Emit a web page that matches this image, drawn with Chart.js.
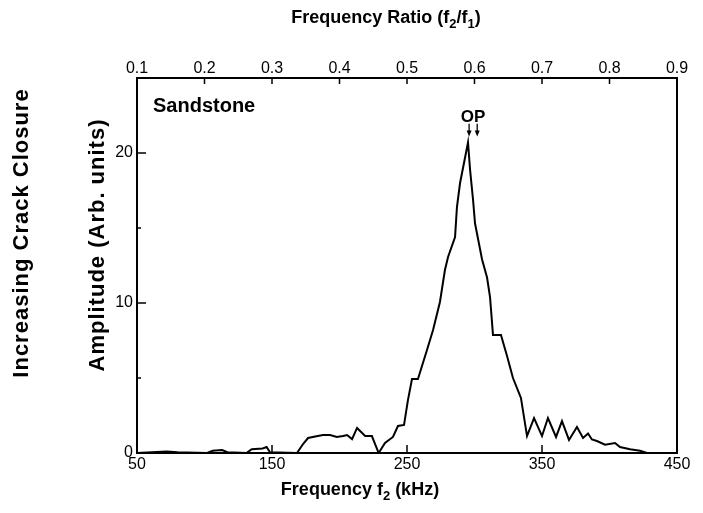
<!DOCTYPE html>
<html>
<head>
<meta charset="utf-8">
<script src="https://cdn.jsdelivr.net/npm/chart.js@4.4.1/dist/chart.umd.min.js"></script>
<style>
  html, body { margin: 0; padding: 0; background: #fff; }
  canvas { display: block; }
</style>
</head>
<body>
<canvas id="chart" width="703" height="513"></canvas>
<script>
// frequency f2 (kHz) and amplitude (arb. units)
const freq = [50, 72, 80, 102, 106, 113, 117, 131, 135, 143, 146, 148.5, 168.5, 173, 176.7, 182, 187.8, 193,
  198, 202.6, 205.6, 209.3, 213, 219, 224, 229, 233.7, 239.6, 243.3, 247.8, 250.7, 253.7, 258.1, 264.8,
  269.3, 274.4, 278.1, 280.4, 285.6, 287, 289.3, 295.2, 296.7, 298.9, 300.4, 305.6, 309.3, 311.5, 313.7,
  319.6, 324.1, 328.5, 334.4, 338.9, 344.1, 350, 354.4, 360.4, 364.8, 370, 375.9, 380.4, 384.1, 387,
  390.7, 396.7, 404.1, 407.8, 415.2, 422.6, 427.8];
const amp = [0, 0.1, 0.05, 0, 0.15, 0.2, 0.05, 0, 0.25, 0.3, 0.4, 0.05, 0, 0.6, 1.0, 1.1, 1.2, 1.2,
  1.07, 1.13, 1.2, 0.93, 1.67, 1.13, 1.13, 0, 0.67, 1.07, 1.8, 1.87, 3.53, 4.93, 4.93, 6.87,
  8.2, 10.07, 12.2, 13.07, 14.4, 16.4, 18.0, 20.7, 18.9, 16.9, 15.3, 12.9, 11.7, 10.4, 7.87,
  7.87, 6.47, 5.0, 3.67, 1.13, 2.33, 1.13, 2.33, 1.07, 2.13, 0.87, 1.73, 1.0, 1.3, 0.9,
  0.8, 0.55, 0.67, 0.4, 0.25, 0.15, 0];

const freqTicks = [50, 150, 250, 350, 450];
const ratioTicks = [0.1, 0.2, 0.3, 0.4, 0.5, 0.6, 0.7, 0.8, 0.9];
const ampTicks = [0, 5, 10, 15, 20];

// the two OP arrows (kHz)
const opFreq = [296, 302];

const FONT = "'Liberation Sans', Arial, Helvetica, sans-serif";
Chart.defaults.font.family = FONT;
Chart.defaults.color = '#000';

// text with subscripts: parts = [[text, isSub], ...]
function richText(ctx, parts, x, y, size) {
  const big = 'bold ' + size + 'px ' + FONT;
  const small = 'bold ' + Math.round(size * 0.7) + 'px ' + FONT;
  let w = 0;
  parts.forEach(p => { ctx.font = p[1] ? small : big; w += ctx.measureText(p[0]).width; });
  let cx = x - w / 2;
  ctx.textAlign = 'left';
  ctx.textBaseline = 'alphabetic';
  parts.forEach(p => {
    ctx.font = p[1] ? small : big;
    ctx.fillText(p[0], cx, p[1] ? y + size * 0.28 : y);
    cx += ctx.measureText(p[0]).width;
  });
}

function vText(ctx, text, x, y, size) {
  ctx.save();
  ctx.translate(x, y);
  ctx.rotate(-Math.PI / 2);
  ctx.font = 'bold ' + size + 'px ' + FONT;
  ctx.letterSpacing = '1px';
  ctx.textAlign = 'center';
  ctx.textBaseline = 'middle';
  ctx.fillText(text, 0, 0);
  ctx.restore();
}

const frame = {
  id: 'frame',
  afterDraw(chart) {
    const { ctx, chartArea: a, scales } = chart;
    const x = scales.x, x2 = scales.x2, y = scales.y;
    ctx.save();
    ctx.strokeStyle = '#000';
    ctx.fillStyle = '#000';
    ctx.lineWidth = 2;
    ctx.strokeRect(a.left, a.top, a.right - a.left, a.bottom - a.top);

    // inward tick marks
    ctx.lineWidth = 1.5;
    ctx.beginPath();
    x.ticks.forEach(t => {
      if (t.value <= x.min || t.value >= x.max) return;
      const p = x.getPixelForValue(t.value);
      ctx.moveTo(p, a.bottom); ctx.lineTo(p, a.bottom - 8);
    });
    x2.ticks.forEach(t => {
      if (t.value <= x2.min + 1e-9 || t.value >= x2.max - 1e-9) return;
      const p = x2.getPixelForValue(t.value);
      ctx.moveTo(p, a.top); ctx.lineTo(p, a.top + 6);
    });
    y.ticks.forEach(t => {
      if (t.value <= y.min) return;
      const p = y.getPixelForValue(t.value);
      ctx.moveTo(a.left, p); ctx.lineTo(a.left + (t.value % 10 === 0 ? 9 : 4), p);
    });
    ctx.stroke();

    // OP arrows
    ctx.lineWidth = 1.3;
    opFreq.forEach(f => {
      const px = x.getPixelForValue(f);
      const top = y.getPixelForValue(21.95), bot = y.getPixelForValue(21.1);
      ctx.beginPath();
      ctx.moveTo(px, top); ctx.lineTo(px, bot - 4);
      ctx.stroke();
      ctx.beginPath();
      ctx.moveTo(px - 2.5, bot - 6); ctx.lineTo(px + 2.5, bot - 6); ctx.lineTo(px, bot);
      ctx.closePath();
      ctx.fill();
    });
    ctx.font = 'bold 17px ' + FONT;
    ctx.textAlign = 'center';
    ctx.textBaseline = 'alphabetic';
    ctx.fillText('OP', x.getPixelForValue((opFreq[0] + opFreq[1]) / 2), y.getPixelForValue(22.07));

    ctx.font = 'bold 20px ' + FONT;
    ctx.textAlign = 'left';
    ctx.fillText('Sandstone', a.left + 16, a.top + 34);

    // axis titles
    richText(ctx, [['Frequency Ratio (f', 0], ['2', 1], ['/f', 0], ['1', 1], [')', 0]], 386, 23, 18);
    richText(ctx, [['Frequency f', 0], ['2', 1], [' (kHz)', 0]], 360, 495, 18);
    vText(ctx, 'Amplitude (Arb. units)', 98, 245, 22);
    vText(ctx, 'Increasing Crack Closure', 22, 233, 22);
    ctx.restore();
  }
};

const setTicks = vals => scale => { scale.ticks = vals.map(v => ({ value: v })); };

new Chart(document.getElementById('chart'), {
  type: 'line',
  data: {
    datasets: [{
      data: freq.map((f, i) => ({ x: f, y: amp[i] })),
      borderColor: '#000',
      borderWidth: 2,
      pointRadius: 0,
      tension: 0,
      fill: false
    }]
  },
  options: {
    responsive: false,
    animation: false,
    layout: { padding: { left: 0, right: 26, top: 0, bottom: 0 } },
    plugins: { legend: { display: false }, tooltip: { enabled: false } },
    scales: {
      x: {
        type: 'linear', position: 'bottom', min: 50, max: 450,
        afterBuildTicks: setTicks(freqTicks),
        afterFit: s => { s.height = 60; },
        grid: { display: false, drawTicks: false },
        border: { display: false },
        ticks: { font: { size: 16 }, padding: 2, maxRotation: 0, autoSkip: false }
      },
      x2: {
        type: 'linear', position: 'top', min: 0.1, max: 0.9,
        afterBuildTicks: setTicks(ratioTicks),
        afterFit: s => { s.height = 78; },
        grid: { display: false, drawTicks: false },
        border: { display: false },
        ticks: { font: { size: 16 }, padding: 0, maxRotation: 0, autoSkip: false, callback: v => v.toFixed(1) }
      },
      y: {
        type: 'linear', position: 'left', min: 0, max: 25,
        afterBuildTicks: setTicks(ampTicks),
        afterFit: s => { s.width = 137; },
        grid: { display: false, drawTicks: false },
        border: { display: false },
        ticks: { font: { size: 16 }, padding: 4, autoSkip: false, callback: v => (v % 10 === 0 ? v : '') }
      }
    }
  },
  plugins: [frame]
});
</script>
</body>
</html>
